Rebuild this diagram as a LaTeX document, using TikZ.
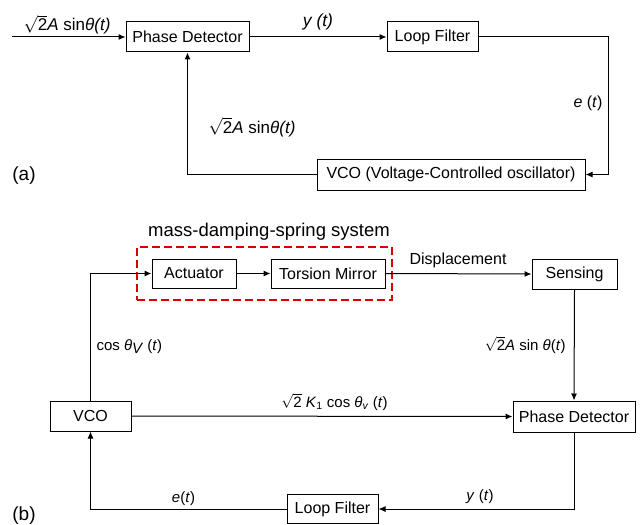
\documentclass[tikz,border=0pt]{standalone}
\usepackage{fontspec}
\setmainfont{Liberation Sans}
\usetikzlibrary{arrows.meta}
\newcommand{\rtwo}{$\sqrt{\hbox{2}}$}
\begin{document}
\begin{tikzpicture}[x=1pt,y=-1pt,line width=1pt,
  blk/.style={draw,line width=1pt,inner sep=0pt,minimum height=30pt,font=\fontsize{16}{19}\selectfont},
  arr/.style={-{Latex[length=7pt,width=6pt]}},
  lbl/.style={inner sep=0pt,font=\fontsize{16}{19}\selectfont},
  slbl/.style={inner sep=0pt,font=\fontsize{15}{18}\selectfont},
  big/.style={inner sep=0pt,font=\fontsize{19}{22}\selectfont},
  grp/.style={draw=red!85!black,dash pattern=on 8pt off 4pt,line width=1.3pt}]
\useasboundingbox (0,0) rectangle (644,524);
% ---------- (a) ----------
\node[blk,minimum width=123pt] (PD1) at (187.5,37) {Phase Detector};
\node[blk,minimum width=91pt] (LF1) at (432.5,37) {Loop Filter};
\node[blk,minimum width=268pt,minimum height=31pt] (VCO1) at (451,174.5) {VCO (Voltage-Controlled oscillator)};
\coordinate (in1) at (12,37);
\coordinate (c1) at (608,37);
\draw[arr] (in1) -- (PD1.west);
\draw[arr] (PD1.east) -- (LF1.west);
\draw[arr] (LF1.east) -- (c1) |- (VCO1.east);
\draw[arr] (VCO1.west) -| (PD1.south);
\node[lbl,anchor=base,font=\fontsize{17}{20}\selectfont] (la1) at (67,31) {\rtwo\textit{A} sin\textit{θ(t)}};
\node[lbl,anchor=base,font=\fontsize{17.5}{20}\selectfont] (la2) at (318,27) {\textit{y (t)}};
\node[lbl,anchor=base] (la3) at (588,107) {\textit{e} (\textit{t})};
\node[lbl,anchor=base,font=\fontsize{17}{20}\selectfont] (la4) at (252,133) {\rtwo\textit{A} sin\textit{θ(t)}};
\node[big,anchor=base] (tagA) at (24,180) {(a)};
% ---------- (b) ----------
\node[big,anchor=base,font=\fontsize{18.5}{22}\selectfont] (title) at (269,236) {mass-damping-spring system};
\node[grp,minimum width=255pt,minimum height=53pt,inner sep=0pt] (grp) at (264.5,273.5) {};
\node[blk,minimum width=84pt,minimum height=29pt] (Act) at (194,273.5) {Actuator};
\node[blk,minimum width=114pt,minimum height=29pt] (TM) at (328,273.5) {Torsion Mirror};
\node[blk,minimum width=85pt] (Sens) at (574.5,274) {Sensing};
\node[blk,minimum width=81pt] (VCO2) at (90.5,416) {VCO};
\node[blk,minimum width=122pt,minimum height=31pt] (PD2) at (574,416.5) {Phase Detector};
\node[blk,minimum width=91pt,minimum height=29.5pt] (LF2) at (332.5,509) {Loop Filter};
\draw[arr] (VCO2.north) |- (Act.west);
\draw[arr] (Act.east) -- (TM.west);
\draw[arr] (TM.east) -- (Sens.west);
\draw[arr] (Sens.south) -- (PD2.north);
\draw[arr] (VCO2.east) -- (PD2.west);
\draw[arr] (PD2.south) |- (LF2.east);
\draw[arr] (LF2.west) -| (VCO2.south);
\node[lbl,anchor=base] (lb1) at (458,264) {Displacement};
\node[slbl,anchor=base west] (lb2) at (96,350) {cos \textit{θ}\raisebox{-3pt}{\textit{V}} (\textit{t})};
\node[slbl,anchor=base east] (lb3) at (566,350) {\rtwo\textit{A} sin \textit{θ}(\textit{t})};
\node[slbl,anchor=base] (lb4) at (334.5,407) {\rtwo\ \textit{K}\textsubscript{1} cos \textit{θ}\textsubscript{\textit{v}} (\textit{t})};
\node[slbl,anchor=base] (lb5) at (480,500) {\textit{y} (\textit{t})};
\node[slbl,anchor=base] (lb6) at (183.5,502) {\textit{e}(\textit{t})};
\node[big,anchor=base] (tagB) at (24,520) {(b)};
\end{tikzpicture}
\end{document}
